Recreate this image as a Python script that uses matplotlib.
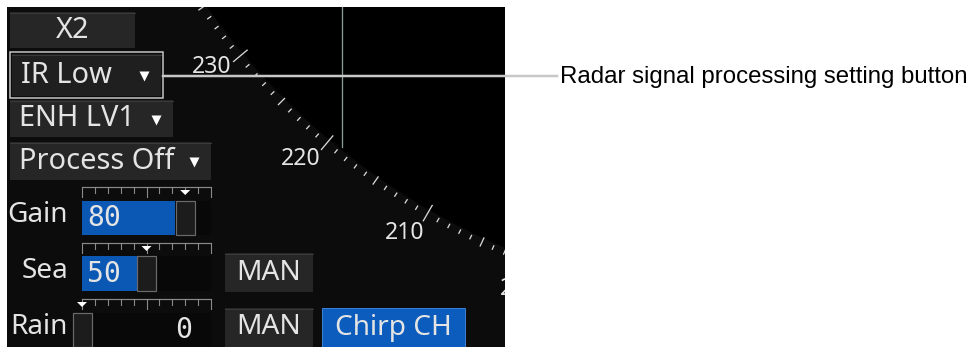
import numpy as np
import matplotlib
matplotlib.use("Agg")
import matplotlib.pyplot as plt
from matplotlib.patches import Rectangle, Circle, Polygon
from matplotlib.transforms import Bbox, TransformedBbox

# --- values shown on the panel ---
menu_buttons = ["X2", "IR Low", "ENH LV1", "Process Off"]
menu_dropdown = [False, True, True, True]
slider_names = ["Gain", "Sea", "Rain"]
slider_values = [80, 50, 0]
mode_buttons = ["MAN", "MAN"]
chirp_label = "Chirp CH"
bearing_labels = [230, 220, 210, 200]
callout_text = "Radar signal processing setting button"

W, H = 973, 347
fig = plt.figure(figsize=(W / 100, H / 100), dpi=100)
ax = fig.add_axes([0, 0, 1, 1])
ax.set_xlim(0, W)
ax.set_ylim(H, 0)
ax.axis("off")

UI_FONT = "Noto Sans"
TXT = "#e4e4e4"
BTN = "#262626"
BLUE = "#0b57b4"


def px(v):
    return v * 0.72


def button(x0, y0, x1, y1, fc=BTN, hl="#3a3a3a"):
    ax.add_patch(Rectangle((x0, y0), x1 - x0, y1 - y0, fc=fc, ec="none", zorder=3))
    ax.plot([x0, x1], [y0 + 0.5, y0 + 0.5], color=hl, lw=px(1), zorder=4)


# panel background
panel = Rectangle((7, 7), 498, 340, fc="#0c0c0c", ec="none", zorder=0)
ax.add_patch(panel)
panel_box = TransformedBbox(Bbox([[7, 7], [505, 347]]), ax.transData)

# bearing ring (centre lies off the panel, upper right)
cx, cy, R = 780, -397, 705
inner = Circle((cx, cy), R - 4, fc="black", ec="none", zorder=1)
ax.add_patch(inner)
inner.set_clip_path(panel)

for b in np.arange(190, 250, 1):
    th = np.radians(b)
    if b % 10 == 0:
        r0, r1, lw = R - 10, R + 9, 1.3
    elif b % 5 == 0:
        r0, r1, lw = R - 5, R + 5, 1.3
    else:
        r0, r1, lw = R - 2, R + 3, 1.3
    xs = [cx + r0 * np.sin(th), cx + r1 * np.sin(th)]
    ys = [cy - r0 * np.cos(th), cy - r1 * np.cos(th)]
    ln, = ax.plot(xs, ys, color="#d8d8d8", lw=px(lw), zorder=2,
                  solid_capstyle="butt")
    ln.set_clip_path(panel)

for b in bearing_labels:
    th = np.radians(b + 0.8)
    t = ax.text(cx + 734 * np.sin(th), cy - 734 * np.cos(th), str(b),
                color=TXT, fontsize=px(23), family=UI_FONT, fontweight="light",
                ha="center", va="center", zorder=2)
    t.set_clip_on(True)
    t.set_clip_box(panel_box)

# heading line
ax.plot([342, 342], [7, 147], color="#8c9c92", lw=px(1.3), zorder=2)

# callout line and text
ax.plot([163, 557], [76, 76], color="#c8c8c8", lw=px(2.5), zorder=5)
ax.text(560, 77, callout_text, fontsize=px(24), family="Liberation Sans",
        color="black", ha="left", va="center")

# menu buttons
rows = [(12, 48, 135), (54, 96, 161), (100, 137, 173), (142, 180, 211)]
for lab, dd, (y0, y1, x1) in zip(menu_buttons, menu_dropdown, rows):
    x0 = 12 if lab == "IR Low" else 10
    button(x0, y0, x1, y1, fc="#1f1f1f" if lab == "IR Low" else BTN)
    yc = (y0 + y1) / 2
    if dd:
        ax.text(x0 + 9, yc, lab, color=TXT, fontsize=px(29), family=UI_FONT,
                ha="left", va="center", zorder=5)
        ax.plot(x1 - 17, yc + 1, marker="v", ms=px(10), color="white",
                mec="none", zorder=5)
    else:
        ax.text((x0 + x1) / 2, yc, lab, color=TXT, fontsize=px(29),
                family=UI_FONT, ha="center", va="center", zorder=5)

# selection outline around IR Low
ax.add_patch(Rectangle((10, 52), 153, 46, fc="none", ec="#c8c8c8",
                       lw=px(1.5), zorder=6))

# sliders
sx0, sx1 = 82, 211
slider_rows = [(187, 201, 235), (243, 256, 291), (299, 313, 347)]
for name, val, (ry, by0, by1) in zip(slider_names, slider_values, slider_rows):
    # ruler
    ax.plot([sx0, sx1], [ry, ry], color="#8a8a8a", lw=px(1.2), zorder=3)
    for i in range(11):
        tx = sx0 + i * (sx1 - sx0) / 10
        tl = 10 if i in (0, 5, 10) else 6
        ax.plot([tx, tx], [ry, ry + tl], color="#8a8a8a", lw=px(1.1), zorder=3)
    mx = sx0 + val / 100 * (sx1 - sx0)
    ax.add_patch(Polygon([[mx - 5, ry + 3], [mx + 5, ry + 3], [mx, ry + 8]],
                         closed=True, fc="white", ec="none", zorder=5))
    # track
    ax.add_patch(Rectangle((sx0, by0), sx1 - sx0, by1 - by0, fc="#080808",
                           ec="none", zorder=3))
    if mx - 10 > sx0:
        ax.add_patch(Rectangle((sx0, by0), mx - 10 - sx0, by1 - by0, fc=BLUE,
                               ec="none", zorder=4))
    ax.add_patch(Rectangle((mx - 9.5, by0), 19, by1 - by0, fc="#1c1c1c",
                           ec="#6a6a6a", lw=px(1.2), zorder=5))
    yc = (by0 + by1) / 2
    ax.text(68, yc - 3, name, color=TXT, fontsize=px(28), family=UI_FONT,
            ha="right", va="center", zorder=5)
    if val > 0:
        ax.text(87, yc, str(val), color=TXT, fontsize=px(28),
                family="DejaVu Sans Mono", ha="left", va="center", zorder=6)
    else:
        ax.text(192, yc, str(val), color=TXT, fontsize=px(28),
                family="DejaVu Sans Mono", ha="right", va="center", zorder=6)

# MAN buttons and Chirp CH
for lab, (y0, y1) in zip(mode_buttons, [(253, 292), (308, 347)]):
    button(225, y0, 313, y1)
    ax.text(269, (y0 + y1) / 2, lab, color=TXT, fontsize=px(28),
            family=UI_FONT, ha="center", va="center", zorder=5)

ax.add_patch(Rectangle((322, 308), 143, 39, fc="#0c5cbd", ec="#3d7fd0",
                       lw=px(1), zorder=3))
ax.text(393, 327.5, chirp_label, color=TXT, fontsize=px(28), family=UI_FONT,
        ha="center", va="center", zorder=5)

fig.savefig("out.png", dpi=100, facecolor="white")
